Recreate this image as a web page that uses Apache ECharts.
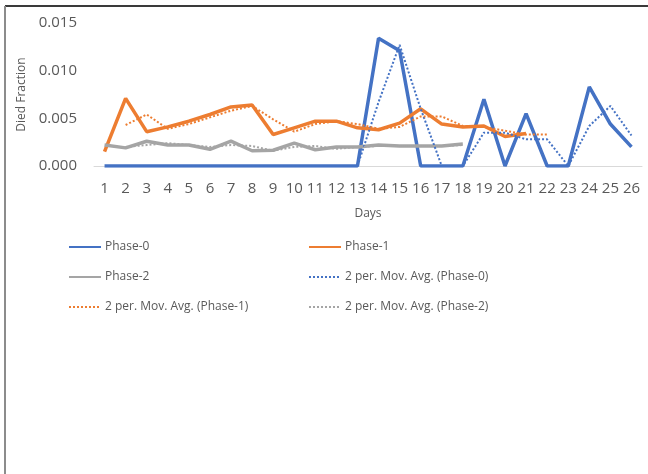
<!DOCTYPE html>
<html>
<head>
<meta charset="utf-8">
<script src="https://cdn.jsdelivr.net/npm/echarts@6/dist/echarts.min.js"></script>
<style>html,body{margin:0;padding:0;background:#fff}#c{width:648px;height:474px}</style>
</head>
<body>
<div id="c"></div>
<script>
const days = ['1','2','3','4','5','6','7','8','9','10','11','12','13','14','15','16','17','18','19','20','21','22','23','24','25','26'];
const phase0 = [0,0,0,0,0,0,0,0,0,0,0,0,0,0.0134,0.0121,0,0,0,0.0070,0,0.0055,0,0,0.0083,0.0044,0.0020];
const phase1 = [0.0015,0.0071,0.0036,0.0041,0.0047,0.0054,0.0062,0.0064,0.0033,0.0040,0.0047,0.0047,0.0040,0.0038,0.0045,0.0060,0.0044,0.0041,0.0042,0.0031,0.0034,null,null,null,null,null];
const phase2 = [0.0022,0.0019,0.0026,0.0022,0.0022,0.00175,0.0026,0.0016,0.00165,0.0024,0.0017,0.0020,0.0020,0.0022,0.0021,0.0021,0.0021,0.0023,null,null,null,null,null,null,null,null];
const mavg0 = [null,0,0,0,0,0,0,0,0,0,0,0,0,0.0067,0.0127,0.0060,0,0,0.0035,0.0035,0.0028,0.0028,0,0.0042,0.0063,0.0032];
const mavg1 = [null,0.0043,0.0054,0.0039,0.0044,0.0051,0.0058,0.0063,0.0049,0.0036,0.0044,0.0047,0.0044,0.0039,0.0041,0.0052,0.0052,0.0042,0.0041,0.0037,0.0033,0.0033,null,null,null,null];
const mavg2 = [null,0.0020,0.0022,0.0024,0.0022,0.0020,0.0022,0.0021,0.0016,0.0020,0.0021,0.0018,0.0020,0.0021,0.0021,0.0021,0.0021,0.0022,null,null,null,null,null,null,null,null];
const yTicks = [0, 0.005, 0.010, 0.015];

const names = ['Phase-0','Phase-1','Phase-2','2 per. Mov. Avg. (Phase-0)','2 per. Mov. Avg. (Phase-1)','2 per. Mov. Avg. (Phase-2)'];
const BLUE='#4472C4', ORANGE='#ED7D31', GRAY='#A5A5A5';
const FONT = 'Open Sans';
const chart = echarts.init(document.getElementById('c'), null, {renderer:'canvas'});
const legendPos = [[63,236],[303,236],[63,266],[303,266],[63,296],[303,296]];
function mk(name, data, color, dotted){
  return {name, type:'line', data, symbol:'none', connectNulls:false, animation:false,
    lineStyle: dotted ? {color, width:2, type:[2,2]} : {color, width:3.5},
    itemStyle:{color}, z: dotted?3:2};
}
chart.setOption({
  animation:false,
  backgroundColor:'#fff',
  grid:{left:94, right:6, top:23, bottom:308, containLabel:false},
  legend: names.map((n,i)=>({data:[n], left:legendPos[i][0], top:legendPos[i][1], itemWidth:32, itemHeight:14, itemGap:5,
    itemStyle:{opacity:0},
    textStyle:{color:'#595959', fontSize:12, fontFamily:FONT, padding:[0,0,0,-1]}, selectedMode:false})),
  xAxis:{type:'category', data:days, boundaryGap:true,
    axisLine:{lineStyle:{color:'#D9D9D9', width:1}}, axisTick:{show:false},
    axisLabel:{interval:0, color:'#595959', fontSize:15, fontFamily:FONT, margin:15},
    name:'Days', nameLocation:'middle', nameGap:42, nameTextStyle:{color:'#595959', fontSize:12, fontFamily:FONT}},
  yAxis:{type:'value', min:yTicks[0], max:yTicks[yTicks.length-1], interval:0.005,
    axisLine:{show:false}, axisTick:{show:false}, splitLine:{show:false},
    axisLabel:{color:'#595959', fontSize:15, fontFamily:FONT, margin:17, formatter:v=>v.toFixed(3)},
    name:'Died Fraction', nameLocation:'middle', nameGap:55, nameTextStyle:{color:'#595959', fontSize:12, fontFamily:FONT}},
  series:[
    mk(names[0], phase0, BLUE, false),
    mk(names[1], phase1, ORANGE, false),
    mk(names[2], phase2, GRAY, false),
    mk(names[3], mavg0, BLUE, true),
    mk(names[4], mavg1, ORANGE, true),
    mk(names[5], mavg2, GRAY, true)
  ],
  graphic:[
    {type:'line', shape:{x1:5, y1:6, x2:648, y2:6}, style:{stroke:'#3a3a3a', lineWidth:2}, silent:true},
    {type:'line', shape:{x1:5, y1:6, x2:5, y2:474}, style:{stroke:'#8c8c8c', lineWidth:2}, silent:true}
  ]
});
</script>
</body>
</html>
